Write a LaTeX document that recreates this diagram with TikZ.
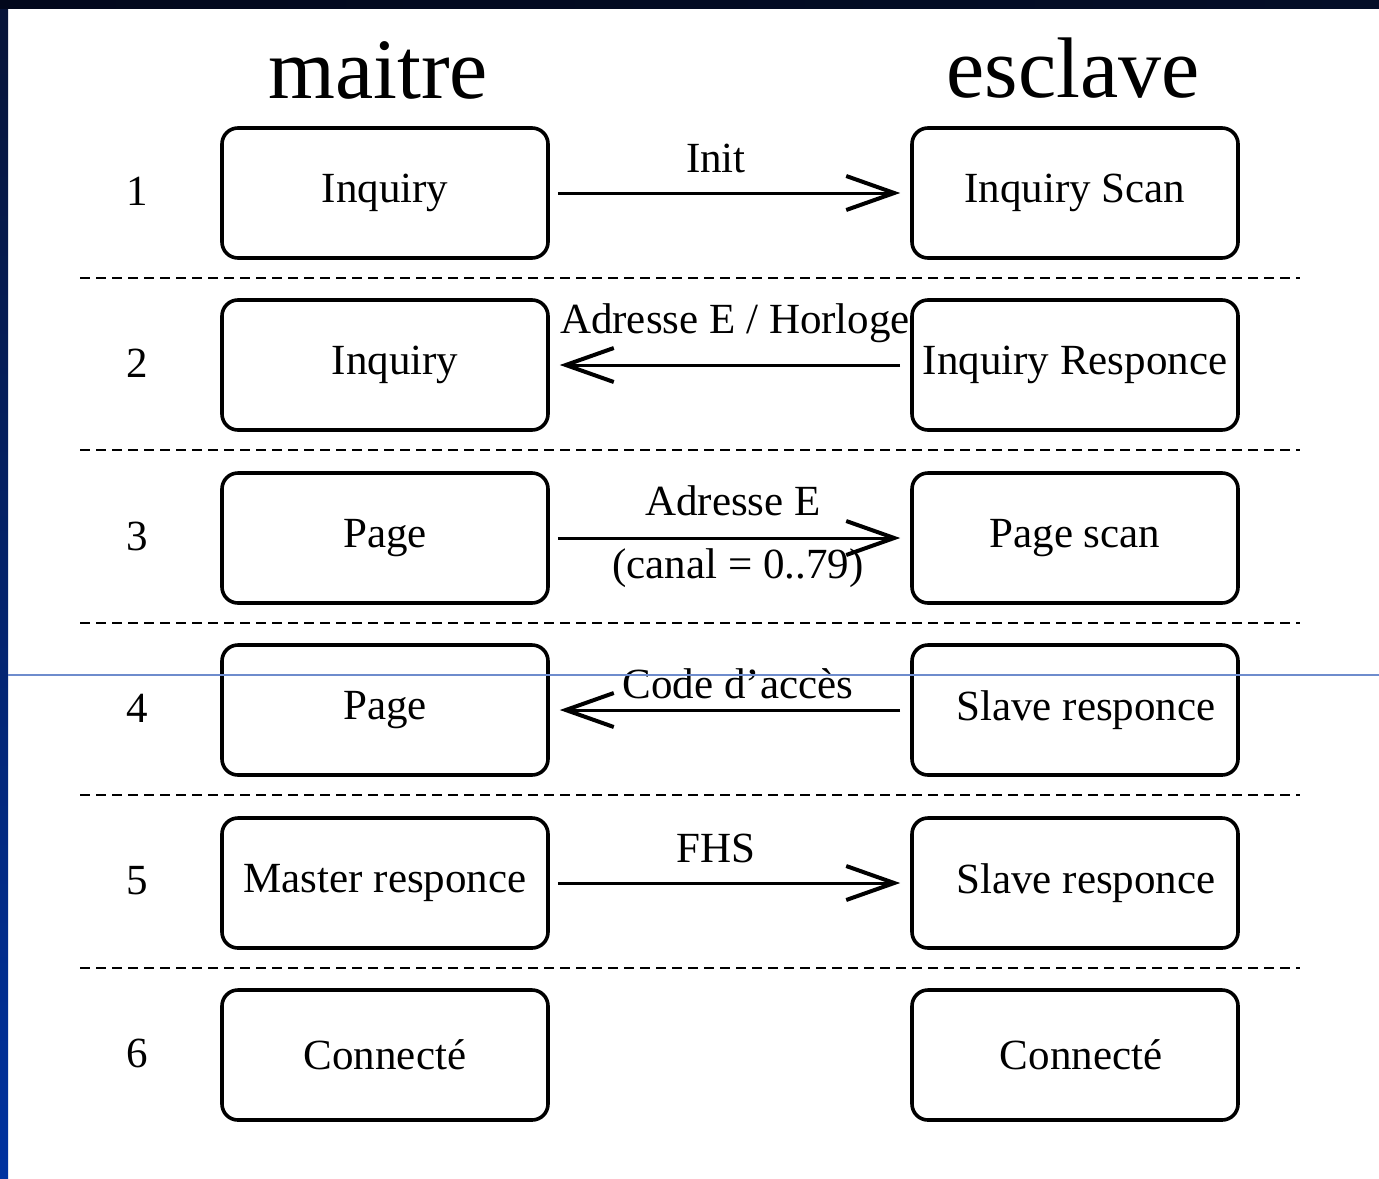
\documentclass[tikz,border=0pt]{standalone}
\usepackage{fontspec}
\setmainfont{Liberation Serif}
\usetikzlibrary{arrows.meta}
\begin{document}
\begin{tikzpicture}[x=0.5pt,y=-0.5pt,
  stage/.style={draw, line width=1.8pt, rounded corners=8pt,
    minimum width=163pt, minimum height=65pt, inner sep=0pt,
    font=\fontsize{21.5}{24}\selectfont},
  rownum/.style={font=\fontsize{21.5}{24}\selectfont},
  head/.style={font=\fontsize{43}{48}\selectfont, anchor=base},
  msg/.style={font=\fontsize{21.5}{24}\selectfont, anchor=base},
  sep/.style={line width=0.8pt, dash pattern=on 5pt off 3pt},
  arr/.style={line width=1.5pt,
    -{Straight Barb[length=24pt,width=17pt,line width=2pt]}}]

% page and frame
\useasboundingbox (0,0) rectangle (1379,1178);
\fill[white] (0,0) rectangle (1379,1178);
\shade[top color={rgb,255:red,8;green,20;blue,55}, bottom color={rgb,255:red,0;green,50;blue,160}]
  (0,0) rectangle (8,1178);
\shade[left color={rgb,255:red,2;green,8;blue,28}, right color={rgb,255:red,4;green,14;blue,40}]
  (0,0) rectangle (1379,8);

% column headings
\node[head] (hm) at (378,98) {maitre};
\node[head] (he) at (1073,97) {esclave};

% row numbers
\foreach \i/\y in {1/191,2/363,3/536,4/708,5/881,6/1053}
  \node[rownum] (n\i) at (137,\y) {\i};

% row separators
\foreach \y in {278,450,623,795,968}
  \draw[sep] (80,\y) -- (1300,\y);

% master side
\node[stage] (L1) at (385,193) {Inquiry};
\node[stage] (L2) at (385,365) {\hspace*{10pt}Inquiry};
\node[stage] (L3) at (385,538) {Page};
\node[stage] (L4) at (385,710) {Page};
\node[stage] (L5) at (385,883) {Master responce};
\node[stage] (L6) at (385,1055) {Connecté};

% slave side
\node[stage] (R1) at (1075,193) {Inquiry Scan};
\node[stage] (R2) at (1075,365) {Inquiry Responce};
\node[stage] (R3) at (1075,538) {Page scan};
\node[stage] (R4) at (1075,710) {\hspace*{11pt}Slave responce};
\node[stage] (R5) at (1075,883) {\hspace*{11pt}Slave responce};
\node[stage] (R6) at (1075,1055) {\hspace*{6pt}Connecté};

% messages
\draw[arr] ([xshift=4pt]L1.east) -- ([xshift=-5pt]R1.west);
\draw[arr] ([xshift=-5pt]R2.west) -- ([xshift=5pt]L2.east);
\draw[arr] ([xshift=4pt]L3.east) -- ([xshift=-5pt]R3.west);
\draw[arr] ([xshift=-5pt]R4.west) -- ([xshift=5pt]L4.east);
\draw[arr] ([xshift=4pt]L5.east) -- ([xshift=-5pt]R5.west);

\node[msg] (m1) at (716,172) {Init};
\node[msg] (m2) at (735,333) {Adresse E / Horloge};
\node[msg] (m3) at (733,515) {Adresse E};
\node[msg] (m3b) at (738,578) {(canal = 0..79)};
\node[msg] (m4) at (738,698) {Code d’accès};
\node[msg] (m5) at (716,862) {FHS};

% thin scan line across the sheet
\draw[line width=0.6pt, color={rgb,255:red,110;green,140;blue,205}] (8,675) -- (1379,675);
\end{tikzpicture}
\end{document}
